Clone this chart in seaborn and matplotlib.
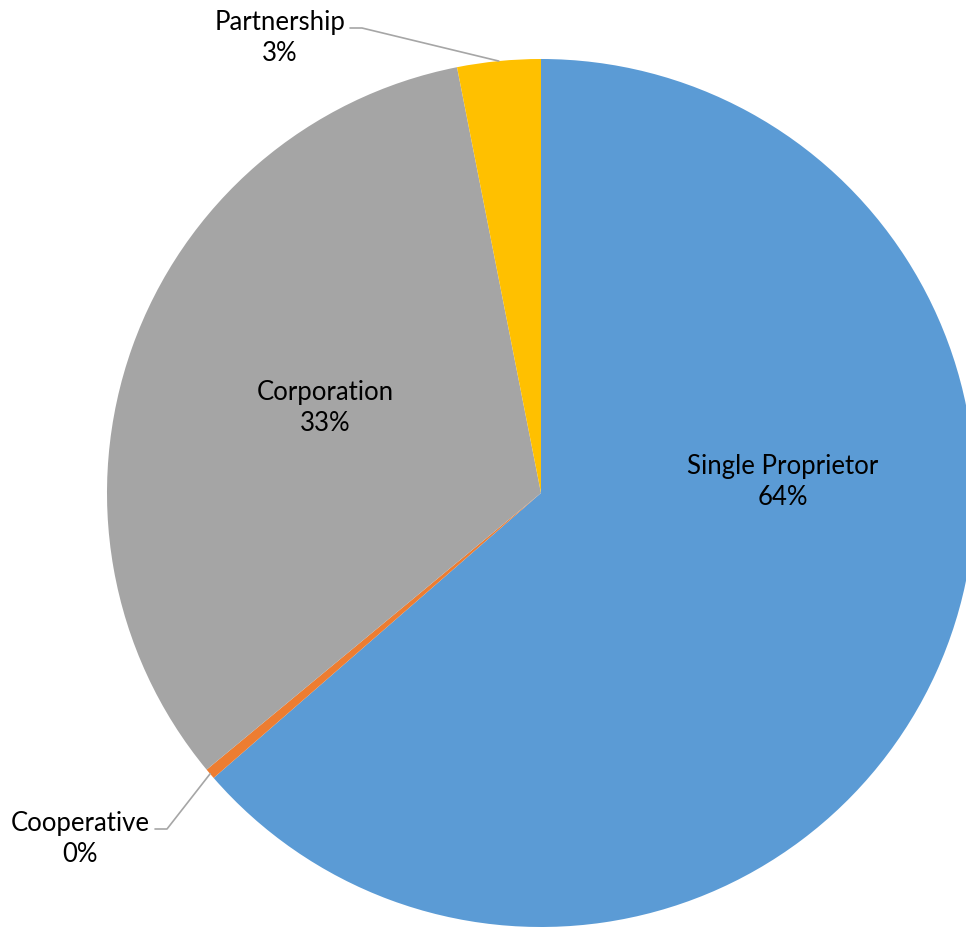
import numpy as np
import matplotlib.pyplot as plt
import seaborn as sns

# === DATA ===
categories = ["Single Proprietor", "Cooperative", "Corporation", "Partnership"]
shares = [63.6, 0.4, 32.9, 3.1]
colors = ["#5B9BD5", "#ED7D31", "#A5A5A5", "#FFC000"]

# === STYLE ===
sns.set_theme(style="white")
plt.rcParams["font.family"] = ["Lato", "DejaVu Sans"]

W, H = 966, 927
CX, CY, R = 541, 493, 434  # pie centre / radius in pixels


def px(x, y):
    # pixel position -> data coords of the pie axes
    return (x - CX) / R, (CY - y) / R


fig = plt.figure(figsize=(W / 100, H / 100), dpi=100)
ax = fig.add_axes([(CX - R) / W, (H - CY - R) / H, 2 * R / W, 2 * R / H])
ax.set_axis_off()

wedges, _ = ax.pie(shares, colors=colors, startangle=90, counterclock=False,
                   radius=1, center=(0, 0), frame=False,
                   wedgeprops={"linewidth": 0, "edgecolor": "none"})
ax.set_xlim(-1, 1)
ax.set_ylim(-1, 1)
for w in wedges:
    w.set_clip_on(False)

total = sum(shares)
labels = [f"{c}\n{round(v / total * 100):.0f}%" for c, v in zip(categories, shares)]

# label positions (pixels)
label_pos = {
    "Single Proprietor": (783, 482),
    "Cooperative": (80, 839),
    "Corporation": (325, 408),
    "Partnership": (280, 38),
}
leader_start = {
    "Cooperative": [(155, 829), (167, 829)],
    "Partnership": [(350, 28), (362, 28)],
}

for w, cat, lab in zip(wedges, categories, labels):
    tx, ty = px(*label_pos[cat])
    ax.text(tx, ty, lab, ha="center", va="center", fontsize=18.5,
            color="#000000", linespacing=1.32)
    if cat in leader_start:
        mid = np.deg2rad((w.theta1 + w.theta2) / 2)
        end = (np.cos(mid), np.sin(mid))
        pts = [px(*p) for p in leader_start[cat]] + [end]
        xs, ys = zip(*pts)
        ax.plot(xs, ys, color="#A6A6A6", lw=1.2, clip_on=False)

fig.savefig("out.png", dpi=100, facecolor="white")
